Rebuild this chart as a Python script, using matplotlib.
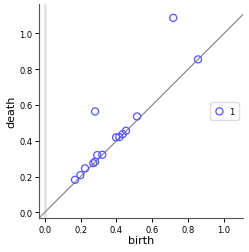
import numpy as np
import matplotlib.pyplot as plt

# persistence pairs (H1)
birth = [0.169, 0.199, 0.225, 0.271, 0.281, 0.293, 0.321, 0.398, 0.416, 0.435, 0.453,
         0.515, 0.281, 0.717, 0.855]
death = [0.182, 0.208, 0.246, 0.275, 0.283, 0.320, 0.322, 0.419, 0.421, 0.437, 0.456,
         0.536, 0.564, 1.087, 0.855]
dim_label = "1"

x_lo, x_hi = -0.03, 1.106
y_lo, y_hi = -0.032, 1.164

fig = plt.figure(figsize=(2.49, 2.53), dpi=100)
ax = fig.add_axes([0.158, 0.134, 0.818, 0.846])

# диагональ и линия нуля
ax.axvline(0, color="#e3e3e3", linewidth=2, zorder=1)
ax.plot([x_lo, x_hi], [x_lo, x_hi], color="#8c8c8c", linewidth=0.9, zorder=2)

ax.scatter(birth, death, s=26, facecolors="none", edgecolors="#5555ff",
           linewidths=0.9, label=dim_label, zorder=3)

ax.set_xlim(x_lo, x_hi)
ax.set_ylim(y_lo, y_hi)
ax.set_xticks([0.0, 0.2, 0.4, 0.6, 0.8, 1.0])
ax.set_yticks([0.0, 0.2, 0.4, 0.6, 0.8, 1.0])
ax.tick_params(labelsize=6, length=3, width=0.7, pad=2)
ax.set_xlabel("birth", fontsize=8, labelpad=1)
ax.set_ylabel("death", fontsize=8, labelpad=2)

for side in ["top", "right"]:
    ax.spines[side].set_visible(False)
for side in ["left", "bottom"]:
    ax.spines[side].set_linewidth(0.8)
    ax.spines[side].set_color("#555555")

ax.legend(loc="center right", fontsize=6, handletextpad=0.6, borderpad=0.5,
          handlelength=1.2, framealpha=1, edgecolor="#dddddd")

fig.savefig("out.png", dpi=100)
